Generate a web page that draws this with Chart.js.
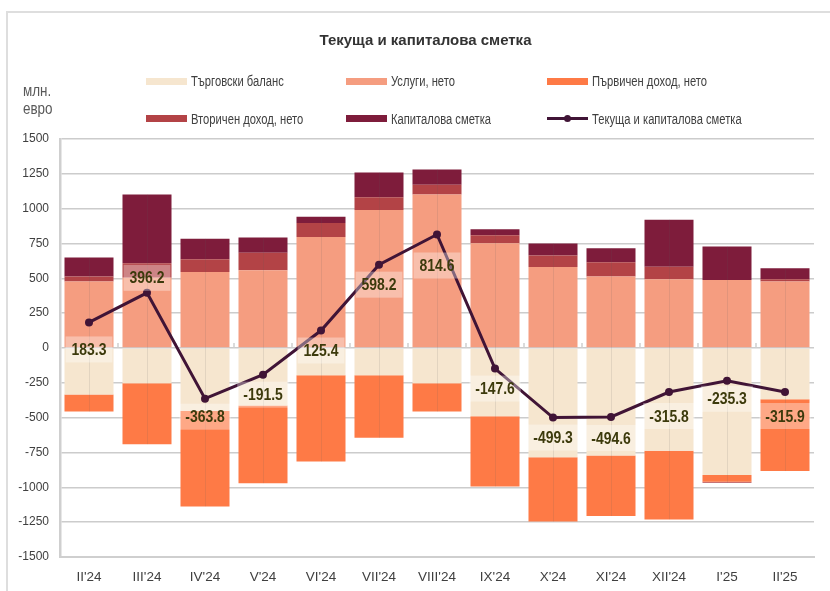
<!DOCTYPE html>
<html>
<head>
<meta charset="utf-8">
<script src="https://cdn.jsdelivr.net/npm/chart.js@4.4.1/dist/chart.umd.min.js"></script>
<style>
  body { margin: 0; background: #fff; }
  #wrap { position: relative; width: 830px; height: 591px; overflow: hidden; }
  #frame { position: absolute; left: 6px; top: 11px; width: 840px; height: 600px;
           border-left: 2px solid #dedede; border-top: 2px solid #dedede; }
  #title { position: absolute; left: 0; width: 851px; top: 31px; text-align: center;
           font: bold 15px "Liberation Sans", Arial, sans-serif; color: #333; }
  #unit { position: absolute; left: 23px; top: 82px; line-height: 17px; transform: scaleX(0.84);
          transform-origin: left top;
          font: 16px "Liberation Sans", Arial, sans-serif; color: #595959; }
  .lg { position: absolute; font: 14px "Liberation Sans", Arial, sans-serif;
        color: #404040; white-space: nowrap; }
  .lg i { position: absolute; left: 0; top: 50%; width: 41px; height: 7px; margin-top: -3.5px; }
  .lg span { position: absolute; left: 45px; top: 0; transform: translateY(-50%) scaleX(0.8);
             transform-origin: left center; }
  .lg b { position: absolute; left: 17px; top: 50%; width: 7px; height: 7px; border-radius: 50%;
          margin-top: -3.5px; background: #401436; }
  canvas { position: absolute; left: 0; top: 0; }
</style>
</head>
<body>
<div id="wrap">
  <canvas id="chart" width="830" height="591"></canvas>
  <div id="frame"></div>
  <div id="title">Текуща и капиталова сметка</div>
  <div id="unit">млн.<br>евро</div>
  <div id="legend"></div>
</div>
<script>
// Данни (млн. евро)
const categories = ["II'24", "III'24", "IV'24", "V'24", "VI'24", "VII'24", "VIII'24", "IX'24", "X'24", "XI'24", "XII'24", "I'25", "II'25"];
const tradeBalance = [-334, -253, -451, -413, -196, -196, -253, -490, -784, -772, -738, -912, -367];
const servicesNet = [478, 504, 546, 558, 796, 990, 1101, 752, 582, 514, 493, 488, 478];
const primaryIncomeNet = [-122, -437, -686, -557, -619, -449, -203, -504, -461, -434, -492, -48, -516];
const secondaryIncomeNet = [36, 105, 91, 125, 101, 92, 70, 58, 81, 101, 91, -7, 15];
const capitalAccount = [135, 492, 147, 110, 45, 178, 110, 43, 87, 101, 337, 240, 79];
const currentAndCapital = [183.3, 396.2, -363.8, -191.5, 125.4, 598.2, 814.6, -147.6, -499.3, -494.6, -315.8, -235.3, -315.9];
const yTicks = [-1500, -1250, -1000, -750, -500, -250, 0, 250, 500, 750, 1000, 1250, 1500];

// вертикално отместване на етикетите спрямо точката (px)
const labelShift = [27, -15, 18, 20, 20, 20, 31, 20, 20, 21, 24, 18, 24];

const colors = {
  trade: '#f6e6cf',
  services: '#f59d80',
  primary: '#fe7a46',
  secondary: '#b34346',
  capital: '#7e1c3b',
  line: '#401436'
};
const font = '"Liberation Sans", Arial, sans-serif';

// Легенда
const legendItems = [
  { text: 'Търговски баланс', color: colors.trade, x: 146, y: 81 },
  { text: 'Услуги, нето', color: colors.services, x: 346, y: 81 },
  { text: 'Първичен доход, нето', color: colors.primary, x: 547, y: 81 },
  { text: 'Вторичен доход, нето', color: colors.secondary, x: 146, y: 118.5 },
  { text: 'Капиталова сметка', color: colors.capital, x: 346, y: 118.5 },
  { text: 'Текуща и капиталова сметка', color: colors.line, x: 547, y: 118.5, line: true }
];
const legendEl = document.getElementById('legend');
legendItems.forEach(it => {
  const d = document.createElement('div');
  d.className = 'lg';
  d.style.left = it.x + 'px';
  d.style.top = it.y + 'px';
  d.innerHTML = it.line
    ? '<i style="background:' + it.color + ';height:3px;margin-top:-1.5px"></i><b></b><span>' + it.text + '</span>'
    : '<i style="background:' + it.color + '"></i><span>' + it.text + '</span>';
  legendEl.appendChild(d);
});

// малки маркери по нулевата линия и бледи линии през центъра на стълбовете
const axisMarks = {
  id: 'axisMarks',
  beforeDatasetDraw(chart, args) {
    if (args.meta.type !== 'line') return;
    const ctx = chart.ctx;
    const y = chart.scales.y;
    const x = chart.scales.x;
    const y0 = y.getPixelForValue(0);
    ctx.save();
    ctx.strokeStyle = 'rgba(90,90,90,0.13)';
    ctx.lineWidth = 1;
    categories.forEach((c, i) => {
      let top = Infinity, bottom = -Infinity;
      chart.data.datasets.forEach((ds, di) => {
        if (ds.type === 'line') return;
        const el = chart.getDatasetMeta(di).data[i];
        top = Math.min(top, el.y, el.base);
        bottom = Math.max(bottom, el.y, el.base);
      });
      const cx = Math.round(x.getPixelForValue(i)) + 0.5;
      ctx.beginPath();
      ctx.moveTo(cx, top);
      ctx.lineTo(cx, bottom);
      ctx.stroke();
    });
    ctx.strokeStyle = '#cfcfcf';
    ctx.lineWidth = 1.5;
    for (let i = 1; i < categories.length; i++) {
      const bx = (x.getPixelForValue(i - 1) + x.getPixelForValue(i)) / 2;
      ctx.beginPath();
      ctx.moveTo(bx, y0 - 5);
      ctx.lineTo(bx, y0);
      ctx.stroke();
    }
    ctx.restore();
  }
};

// етикети на линията (сбит шрифт чрез хоризонтално мащабиране)
const lineLabels = {
  id: 'lineLabels',
  afterDatasetsDraw(chart) {
    const idx = chart.data.datasets.findIndex(d => d.type === 'line');
    const meta = chart.getDatasetMeta(idx);
    const ctx = chart.ctx;
    const sx = 0.82;
    ctx.save();
    ctx.font = 'bold 17px ' + font;
    ctx.textAlign = 'center';
    ctx.textBaseline = 'middle';
    meta.data.forEach((pt, i) => {
      const txt = currentAndCapital[i].toFixed(1);
      const w = ctx.measureText(txt).width * sx + 12;
      const cy = pt.y + labelShift[i];
      ctx.fillStyle = 'rgba(255,255,255,0.35)';
      ctx.fillRect(pt.x - w / 2, cy - 13, w, 26);
      ctx.save();
      ctx.translate(pt.x, cy + 1);
      ctx.scale(sx, 1);
      ctx.fillStyle = '#3c3a0c';
      ctx.fillText(txt, 0, 0);
      ctx.restore();
    });
    ctx.restore();
  }
};

function barSet(label, data, color) {
  return {
    type: 'bar',
    label: label,
    data: data,
    backgroundColor: color,
    borderWidth: 0,
    stack: 'bop',
    order: 1,
    barPercentage: 0.845,
    categoryPercentage: 1
  };
}

new Chart(document.getElementById('chart').getContext('2d'), {
  data: {
    labels: categories,
    datasets: [
      barSet('Търговски баланс', tradeBalance, colors.trade),
      barSet('Услуги, нето', servicesNet, colors.services),
      barSet('Първичен доход, нето', primaryIncomeNet, colors.primary),
      barSet('Вторичен доход, нето', secondaryIncomeNet, colors.secondary),
      barSet('Капиталова сметка', capitalAccount, colors.capital),
      {
        type: 'line',
        label: 'Текуща и капиталова сметка',
        data: currentAndCapital,
        borderColor: colors.line,
        backgroundColor: colors.line,
        borderWidth: 3,
        pointRadius: 4,
        pointBackgroundColor: colors.line,
        pointBorderWidth: 0,
        tension: 0,
        stack: 'line',
        order: 0
      }
    ]
  },
  options: {
    responsive: false,
    animation: false,
    layout: { padding: { left: 0, right: 16, top: 139, bottom: 0 } },
    plugins: {
      legend: { display: false },
      tooltip: { enabled: false }
    },
    scales: {
      x: {
        stacked: true,
        grid: { display: false, drawTicks: false },
        border: { display: true, color: '#cfcfcf', width: 2 },
        ticks: { color: '#404040', font: { family: font, size: 13.5 }, padding: 12, maxRotation: 0 },
        afterFit(scale) { scale.height = 34; }
      },
      y: {
        stacked: true,
        min: yTicks[0],
        max: yTicks[yTicks.length - 1],
        afterBuildTicks(scale) { scale.ticks = yTicks.map(v => ({ value: v })); },
        grid: { color: '#cccccc', lineWidth: 1.5, drawTicks: false },
        border: { display: true, color: '#cfcfcf', width: 2.5 },
        ticks: {
          color: '#404040', font: { family: font, size: 12 }, padding: 11,
          callback: v => String(v)
        },
        afterFit(scale) { scale.width = 60; }
      }
    }
  },
  plugins: [axisMarks, lineLabels]
});
</script>
</body>
</html>
